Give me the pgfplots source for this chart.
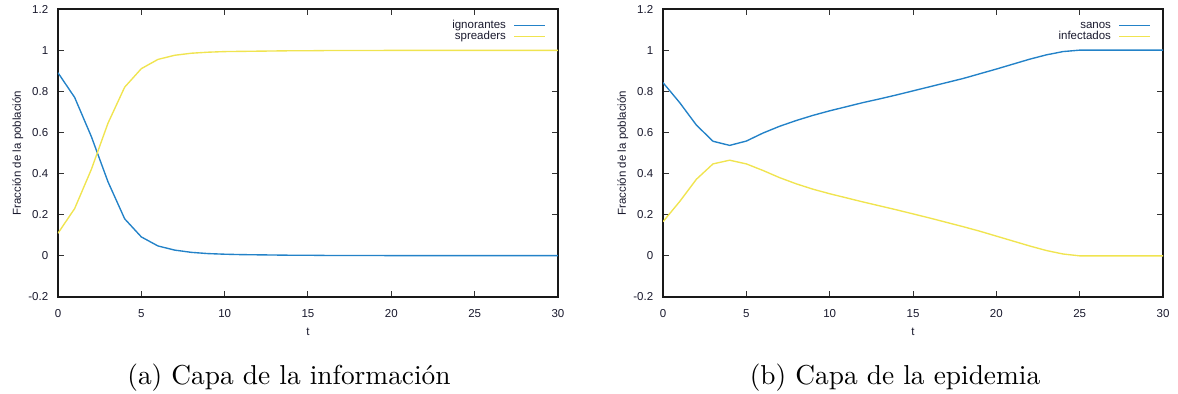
\documentclass[border=0pt]{standalone}
\usepackage{fontspec}
\setmainfont{Latin Modern Roman}
\newfontfamily\gpfont{Liberation Sans}
\usepackage{pgfplots}
\pgfplotsset{compat=1.18}
\definecolor{gpblue}{RGB}{35,130,200}
\definecolor{gpyellow}{RGB}{240,228,80}
\definecolor{gptext}{RGB}{25,25,45}
\pgfplotsset{
  gpaxis/.style={
    scale only axis,
    width=200pt, height=115.2pt,
    xmin=0, xmax=30, ymin=-0.2, ymax=1.2,
    xtick={0,5,...,30}, ytick={-0.2,0,0.2,...,1.2},
    yticklabels={-0.2,0,0.2,0.4,0.6,0.8,1,1.2},
    scaled ticks=false,
    tick align=inside,
    major tick length=2.3pt,
    tick style={line width=0.4pt, color=black!80},
    axis line style={line width=0.5pt, color=black!90},
    every tick label/.append style={font=\gpfont\fontsize{4.6}{5}\selectfont, text=gptext},
    /pgf/number format/assume math mode=true,
    xticklabel style={yshift=-1.6pt},
    yticklabel style={xshift=-0.4pt},
    xlabel={t},
    ylabel={Fracción de la población},
    label style={font=\gpfont\fontsize{4.6}{5}\selectfont, text=gptext},
    xlabel style={yshift=3pt},
    ylabel style={yshift=-4.8pt},
    legend cell align=right,
    legend plot pos=right,
    legend style={draw=none, fill=none, at={(1,1)}, anchor=north east,
      xshift=-3.6pt, yshift=-3pt, font=\gpfont\fontsize{4.6}{5}\selectfont,
      text=gptext, row sep=0pt, column sep=2.8pt, inner sep=1pt,
      nodes={inner sep=0.3pt, text height=3.2pt, text depth=0.8pt}},
    legend image code/.code={\draw[#1, line width=0.5pt] (0pt,0pt) -- (12.4pt,0pt);},
    every axis plot/.append style={line width=0.55pt, mark=none},
  }
}
\begin{document}
\begin{tikzpicture}
\path[use as bounding box] (0,0) rectangle (471.2pt,157.6pt);
\begin{axis}[gpaxis, name=A, at={(23.2pt,38.8pt)}, anchor=south west]
\addplot[gpblue] coordinates {
(0,0.89) (1,0.77) (2,0.58) (3,0.36) (4,0.18) (5,0.092) (6,0.048) (7,0.028)
(8,0.017) (9,0.011) (10,0.008) (11,0.006) (12,0.005) (13,0.004) (14,0.003)
(15,0.003) (16,0.002) (17,0.002) (18,0.002) (19,0.002) (20,0.001) (21,0.001)
(22,0.001) (23,0.001) (24,0.001) (25,0.001) (26,0.001) (27,0.001) (28,0.001)
(29,0.001) (30,0.001)};
\addlegendentry{ignorantes}
\addplot[gpyellow] coordinates {
(0,0.11) (1,0.23) (2,0.42) (3,0.645) (4,0.82) (5,0.91) (6,0.955) (7,0.975)
(8,0.985) (9,0.99) (10,0.993) (11,0.994) (12,0.995) (13,0.996) (14,0.997)
(15,0.997) (16,0.998) (17,0.998) (18,0.998) (19,0.998) (20,0.999) (21,0.999)
(22,0.999) (23,0.999) (24,0.999) (25,0.999) (26,0.999) (27,0.999) (28,0.999)
(29,0.999) (30,0.999)};
\addlegendentry{spreaders}
\end{axis}
\begin{axis}[gpaxis, name=B, at={(265.2pt,38.8pt)}, anchor=south west]
\addplot[gpblue] coordinates {
(0,0.842) (1,0.745) (2,0.636) (3,0.557) (4,0.537) (5,0.558) (6,0.597) (7,0.63)
(8,0.658) (9,0.683) (10,0.705) (11,0.725) (12,0.745) (13,0.763) (14,0.782)
(15,0.802) (16,0.822) (17,0.842) (18,0.862) (19,0.885) (20,0.908) (21,0.932)
(22,0.956) (23,0.977) (24,0.993) (25,1.0) (26,1.0) (27,1.0) (28,1.0) (29,1.0) (30,1.0)};
\addlegendentry{sanos}
\addplot[gpyellow] coordinates {
(0,0.166) (1,0.264) (2,0.372) (3,0.447) (4,0.465) (5,0.447) (6,0.415) (7,0.38)
(8,0.35) (9,0.324) (10,0.302) (11,0.282) (12,0.262) (13,0.243) (14,0.224)
(15,0.204) (16,0.184) (17,0.163) (18,0.142) (19,0.12) (20,0.096) (21,0.072)
(22,0.048) (23,0.026) (24,0.009) (25,0.0) (26,0.0) (27,0.0) (28,0.0) (29,0.0) (30,0.0)};
\addlegendentry{infectados}
\end{axis}
\node[font=\fontsize{10.95}{13}\selectfont, anchor=center, inner sep=0pt]
  at ([xshift=92.4pt, yshift=-32.4pt]A.south west) {(a) Capa de la información};
\node[font=\fontsize{10.95}{13}\selectfont, anchor=center, inner sep=0pt]
  at ([xshift=92.8pt, yshift=-32.4pt]B.south west) {(b) Capa de la epidemia};
\end{tikzpicture}
\end{document}
